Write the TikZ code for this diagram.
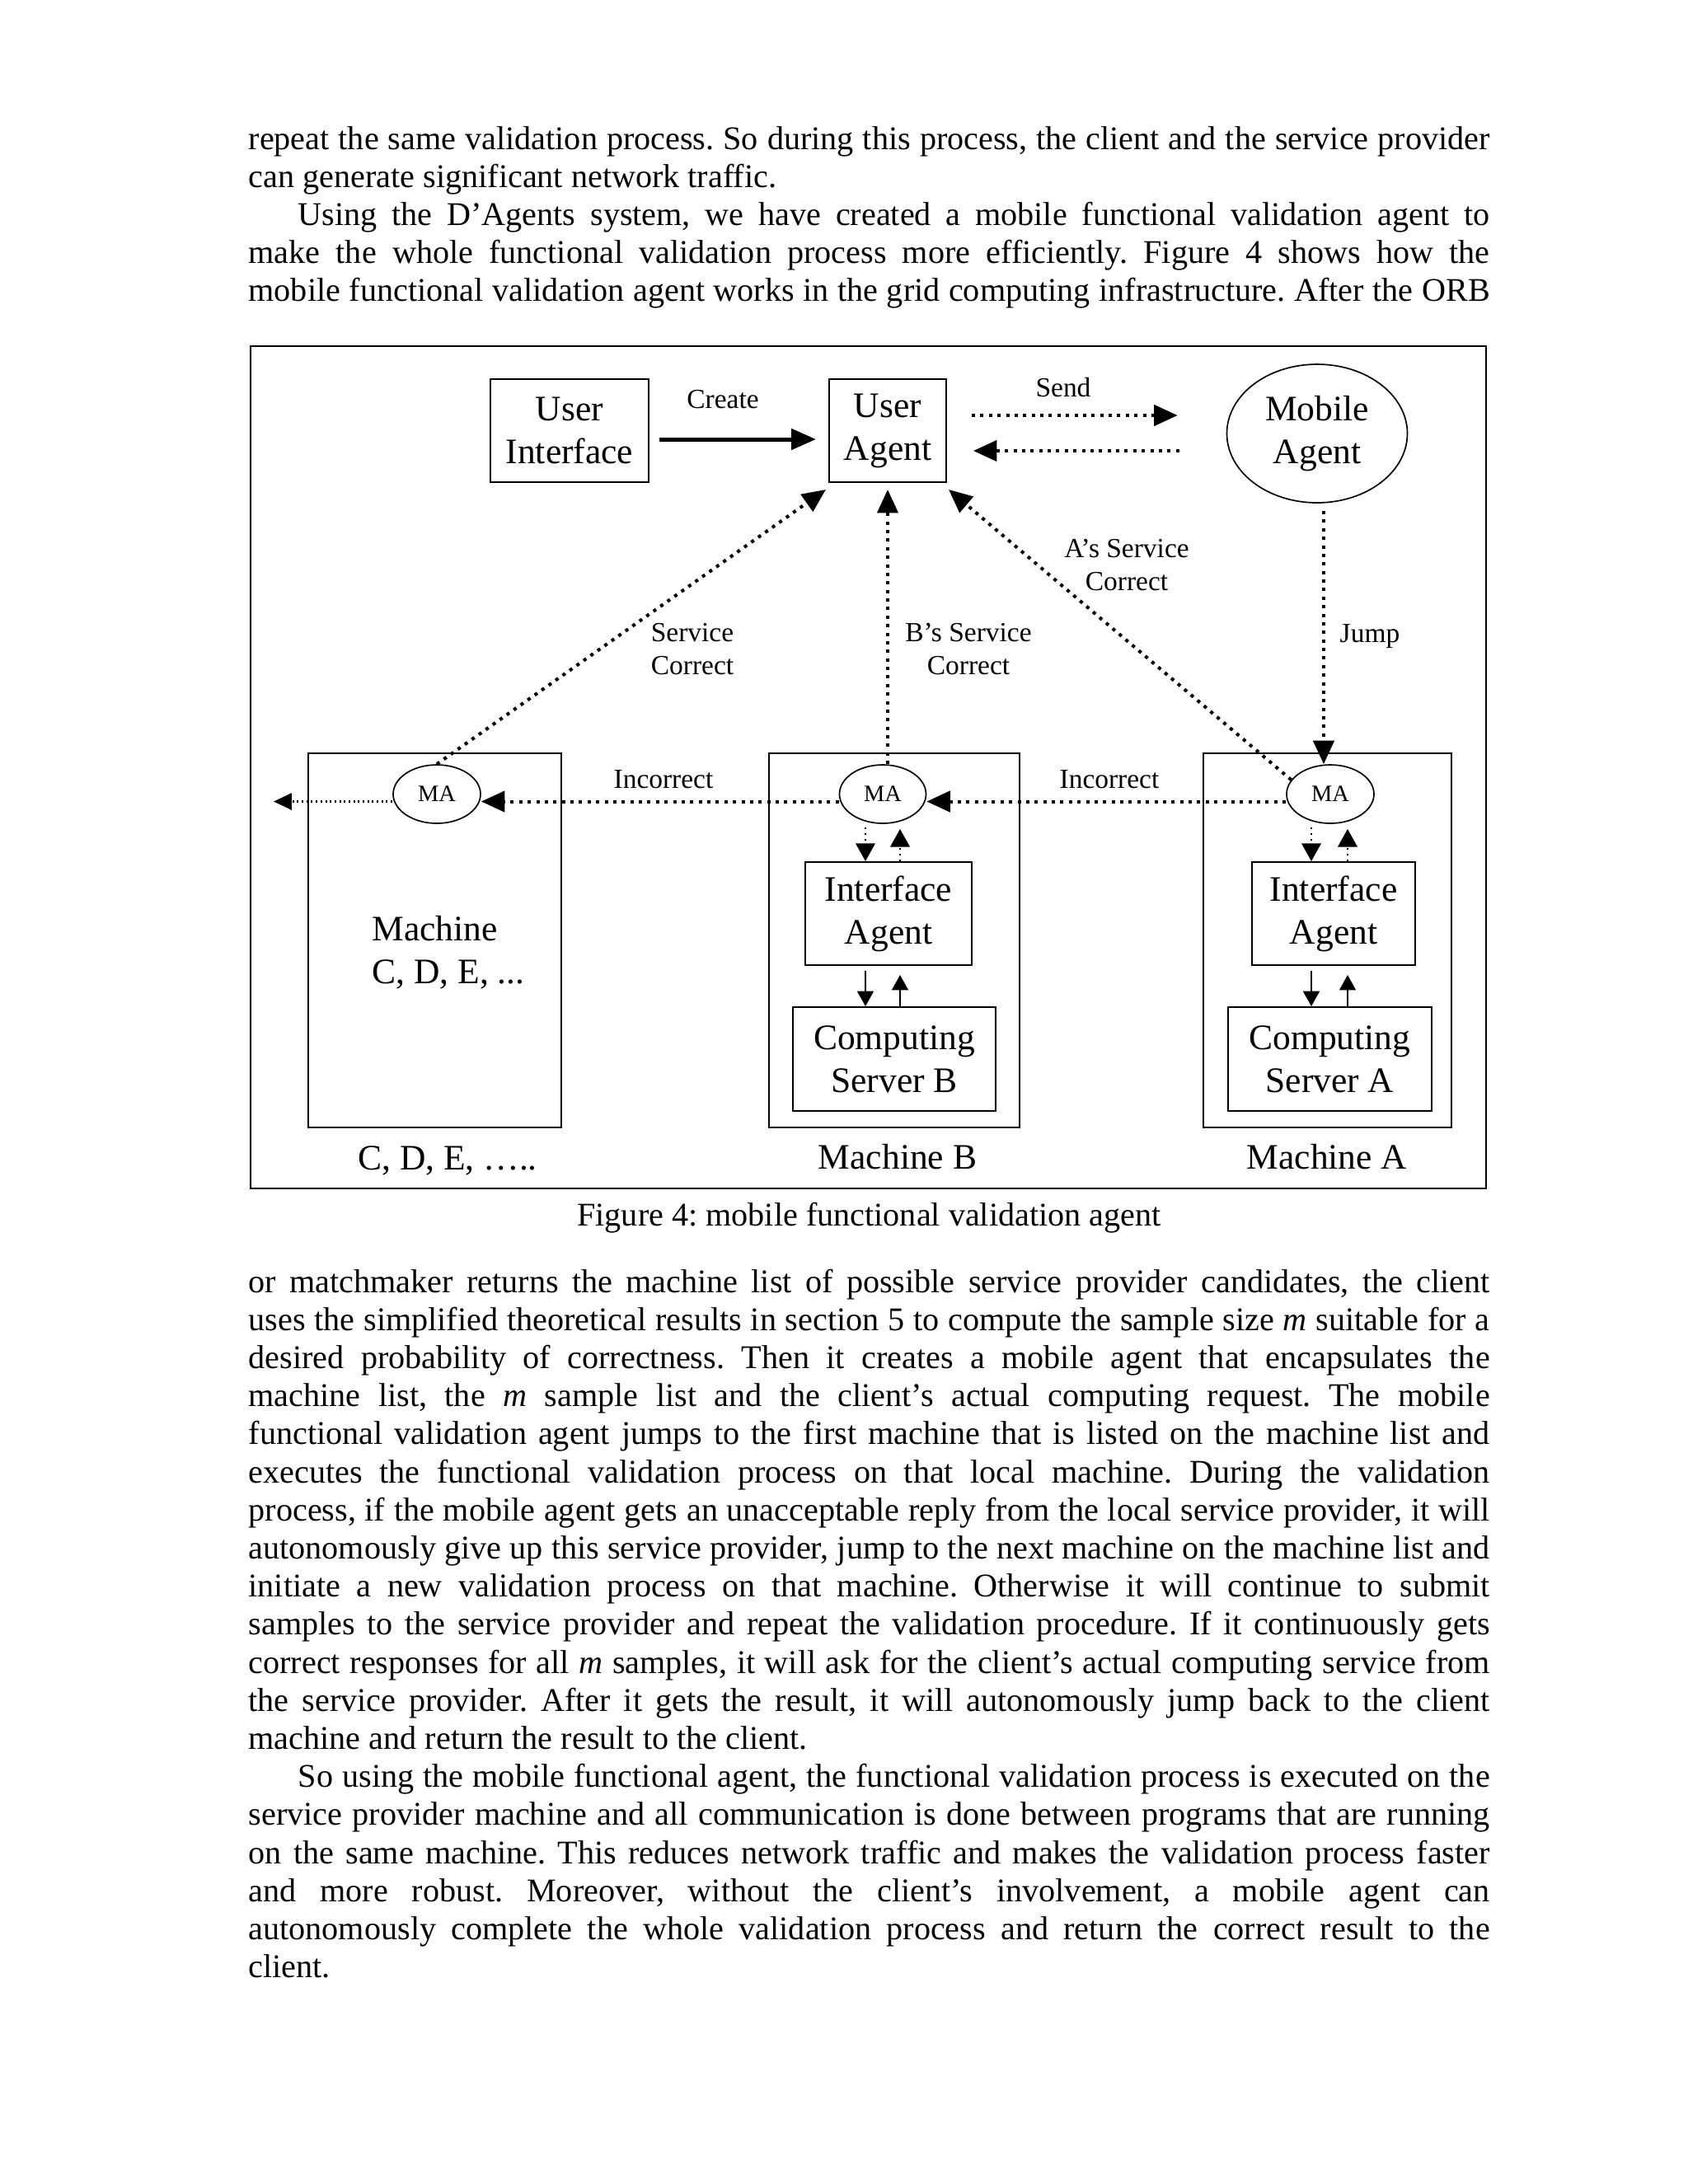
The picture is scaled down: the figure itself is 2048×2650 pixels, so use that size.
\documentclass[tikz,border=0pt]{standalone}
\usepackage{fontspec}
\setmainfont{Liberation Serif}
\usetikzlibrary{arrows.meta,shapes.geometric,calc}
\newcommand\pxl{0.2988pt}
\newcommand\jl[1]{\makebox[450pt][s]{#1}}
\frenchspacing
\begin{document}
\begin{tikzpicture}[x=0.2988pt,y=-0.2988pt,
  box/.style={draw, line width=0.6pt, inner sep=0pt, align=center, font=\fontsize{13}{15.5}\selectfont},
  sz/.style 2 args={minimum width=#1*\pxl, minimum height=#2*\pxl},
  oval/.style={draw, ellipse, line width=0.5pt, inner sep=0pt, align=center},
  lab/.style={inner sep=0pt, align=center, font=\fontsize{10}{12}\selectfont},
  biglab/.style={inner sep=0pt, align=center, font=\fontsize{13}{15.5}\selectfont},
  body/.style={anchor=base west, inner sep=0pt, font=\fontsize{12}{13.8}\selectfont},
  dotarr/.style={line width=1.2pt, dash pattern=on 1.2pt off 1.9pt, -{Triangle[length=8.5pt,width=7.5pt]}},
  finedot/.style={line width=0.7pt, dash pattern=on 0.6pt off 1.1pt, -{Triangle[length=6.5pt,width=6pt]}},
  smalldot/.style={line width=0.8pt, dash pattern=on 0.6pt off 1.5pt, -{Triangle[length=6.5pt,width=7pt]}},
  thinarr/.style={line width=0.45pt, -{Triangle[length=5.5pt,width=6pt]}},
  thickarr/.style={line width=1.5pt, -{Triangle[length=9pt,width=7.5pt]}},
]
\fill[white] (0,0) rectangle (2048,2650);
\useasboundingbox (0,0) rectangle (2048,2650);

% ---------- body text above the figure ----------
\node[body] (t1) at (301,181.5) {\jl{repeat the same validation process. So during this process, the client and the service provider}};
\node[body] (t2) at (301,227.6) {can generate significant network traffic.};
\node[body] (t3) at (301,273.7) {\jl{\hspace*{18pt}Using the D’Agents system, we have created a mobile functional validation agent to}};
\node[body] (t4) at (301,319.8) {\jl{make the whole functional validation process more efficiently. Figure 4 shows how the}};
\node[body] (t5) at (301,365.9) {\jl{mobile functional validation agent works in the grid computing infrastructure. After the ORB}};

% ---------- figure ----------
\node[draw, line width=0.8pt, sz={1499}{1022}] (frame) at (1053.5,931) {};

\node[box, sz={192}{125}] (ui) at (691,522.5) {User\\Interface};
\node[box, sz={142}{125}] (ua) at (1077,522.5) {User\\Agent};
\node[oval, sz={219}{168}, font=\fontsize{13}{15.5}\selectfont] (mob) at (1598,526) {Mobile\\Agent};

\node[box, sz={307}{454}] (mC) at (527.5,1141) {};
\node[box, sz={304}{454}] (mB) at (1085,1141) {};
\node[box, sz={301}{454}] (mA) at (1610.5,1141) {};

\node[oval, fill=white, sz={106}{71}, font=\fontsize{8.5}{10}\selectfont] (maC) at (530,963.5) {MA};
\node[oval, fill=white, sz={105}{71}, font=\fontsize{8.5}{10}\selectfont] (maB) at (1071,963.5) {MA};
\node[oval, fill=white, sz={106}{71}, font=\fontsize{8.5}{10}\selectfont] (maA) at (1614,963.5) {MA};

\node[box, sz={202}{125}] (iaB) at (1078,1108.5) {Interface\\Agent};
\node[box, sz={198}{125}] (iaA) at (1618,1108.5) {Interface\\Agent};
\node[box, sz={246}{126}] (csB) at (1085,1285) {Computing\\Server B};
\node[box, sz={247}{126}] (csA) at (1613.5,1285) {Computing\\Server A};

\node[biglab, align=left, anchor=west] (mCtxt) at (451,1156) {Machine\\C, D, E, ...};
\node[biglab, anchor=base] (lC) at (543,1419) {C, D, E, …..};
\node[biglab, anchor=base] (lB) at (1089,1418) {Machine B};
\node[biglab, anchor=base] (lA) at (1610,1418) {Machine A};

% labels
\node[lab, anchor=base] (lcreate) at (877,495) {Create};
\node[lab, anchor=base] (lsend) at (1290,481) {Send};
\node[lab, align=left] (lsvc) at (840,787.5) {Service\\Correct};
\node[lab] (lbsvc) at (1175,787.5) {B’s Service\\Correct};
\node[lab] (lasvc) at (1367,685.5) {A’s Service\\Correct};
\node[lab, anchor=base] (ljump) at (1662,779) {Jump};
\node[lab, anchor=base] (linc1) at (805,956) {Incorrect};
\node[lab, anchor=base] (linc2) at (1346,956) {Incorrect};

% connectors
\draw[thickarr] ($(ui.east)+(12,10.5)$) -- ($(ua.west)+(-15,10.5)$);
\draw[dotarr] ($(ua.east)+(30,-18.5)$) -- ($(mob.west)+(-59,-22)$);
\draw[dotarr] ($(mob.west)+(-57,21)$) -- ($(ua.east)+(32,24.5)$);
\draw[dotarr] (maC.north) -- ($(ua.south west)+(-3,8)$);
\draw[dotarr] (maB.north -| ua.south) -- ($(ua.south)+(0,8)$);
\draw[dotarr] (maA.160) -- ($(ua.south east)+(2,8)$);
\coordinate (jtop) at (1606,620);
\draw[dotarr] (jtop) -- (jtop |- maA.north);
\draw[dotarr] ($(maA.west)+(0,9)$) -- ($(maB.east)+(0,9)$);
\draw[dotarr] ($(maB.west)+(0,9)$) -- ($(maC.east)+(0,9)$);
\coordinate (out) at (332,972.5);
\draw[finedot] ($(maC.west)+(0,9)$) -- (out);

\coordinate (bd) at (1050,0);
\coordinate (bu) at (1092,0);
\coordinate (ad) at (1591,0);
\coordinate (au) at (1635,0);
\draw[smalldot] ($(maB.south -| bd)+(0,4)$) -- (iaB.north -| bd);
\draw[smalldot] (iaB.north -| bu) -- ($(maB.south -| bu)+(0,6)$);
\draw[thinarr] ($(iaB.south -| bd)+(0,6)$) -- (csB.north -| bd);
\draw[thinarr] (csB.north -| bu) -- ($(iaB.south -| bu)+(0,11)$);
\draw[smalldot] ($(maA.south -| ad)+(0,4)$) -- (iaA.north -| ad);
\draw[smalldot] (iaA.north -| au) -- ($(maA.south -| au)+(0,6)$);
\draw[thinarr] ($(iaA.south -| ad)+(0,6)$) -- (csA.north -| ad);
\draw[thinarr] (csA.north -| au) -- ($(iaA.south -| au)+(0,11)$);

% caption
\node[anchor=base, inner sep=0pt, font=\fontsize{12}{13.8}\selectfont] (cap) at (1054.5,1487) {Figure 4: mobile functional validation agent};

% ---------- body text below the figure ----------
\node[body] (b0) at (301,1568) {\jl{or matchmaker returns the machine list of possible service provider candidates, the client}};
\node[body] (b1) at (301,1614.2) {\jl{uses the simplified theoretical results in section 5 to compute the sample size \textit{m} suitable for a}};
\node[body] (b2) at (301,1660.4) {\jl{desired probability of correctness. Then it creates a mobile agent that encapsulates the}};
\node[body] (b3) at (301,1706.6) {\jl{machine list, the \textit{m} sample list and the client’s actual computing request. The mobile}};
\node[body] (b4) at (301,1752.8) {\jl{functional validation agent jumps to the first machine that is listed on the machine list and}};
\node[body] (b5) at (301,1799) {\jl{executes the functional validation process on that local machine. During the validation}};
\node[body] (b6) at (301,1845.2) {\jl{process, if the mobile agent gets an unacceptable reply from the local service provider, it will}};
\node[body] (b7) at (301,1891.4) {\jl{autonomously give up this service provider, jump to the next machine on the machine list and}};
\node[body] (b8) at (301,1937.6) {\jl{initiate a new validation process on that machine. Otherwise it will continue to submit}};
\node[body] (b9) at (301,1983.8) {\jl{samples to the service provider and repeat the validation procedure. If it continuously gets}};
\node[body] (b10) at (301,2030) {\jl{correct responses for all \textit{m} samples, it will ask for the client’s actual computing service from}};
\node[body] (b11) at (301,2076.2) {\jl{the service provider. After it gets the result, it will autonomously jump back to the client}};
\node[body] (b12) at (301,2122.4) {machine and return the result to the client.};
\node[body] (b13) at (301,2168.6) {\jl{\hspace*{18pt}So using the mobile functional agent, the functional validation process is executed on the}};
\node[body] (b14) at (301,2214.8) {\jl{service provider machine and all communication is done between programs that are running}};
\node[body] (b15) at (301,2261) {\jl{on the same machine. This reduces network traffic and makes the validation process faster}};
\node[body] (b16) at (301,2307.2) {\jl{and more robust. Moreover, without the client’s involvement, a mobile agent can}};
\node[body] (b17) at (301,2353.4) {\jl{autonomously complete the whole validation process and return the correct result to the}};
\node[body] (b18) at (301,2399.6) {client.};
\end{tikzpicture}
\end{document}
